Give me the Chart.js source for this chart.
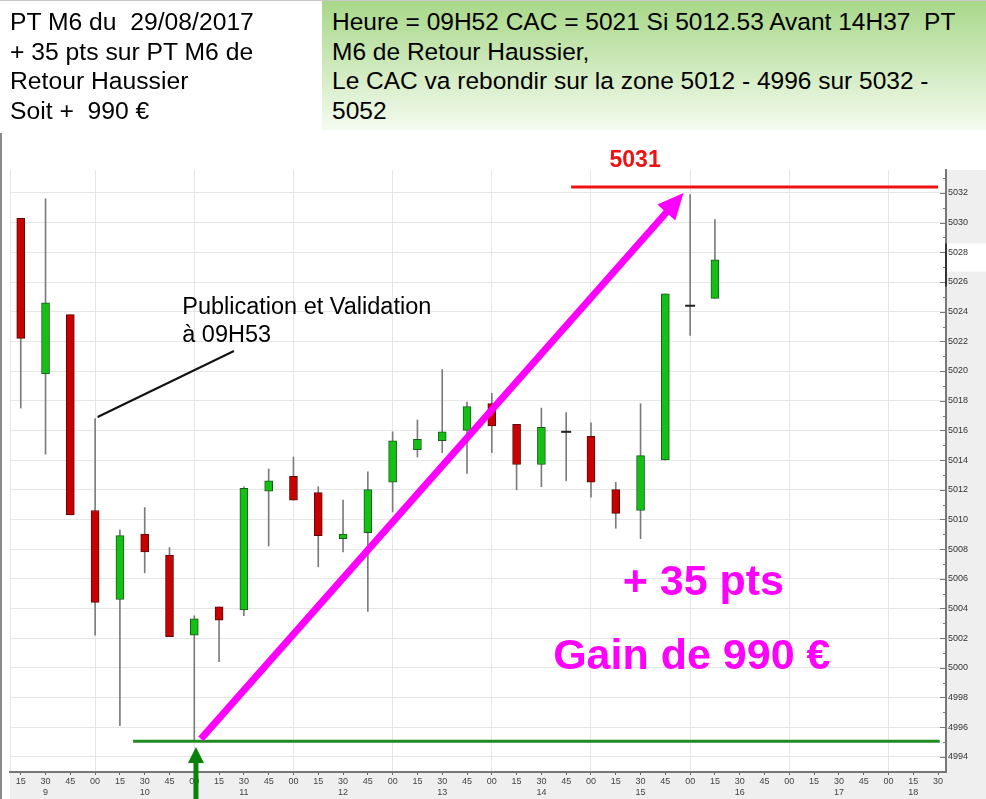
<!DOCTYPE html>
<html><head><meta charset="utf-8">
<script src="https://cdn.jsdelivr.net/npm/chart.js@4.4.0/dist/chart.umd.min.js"></script>
<style>
html,body{margin:0;padding:0;background:#fff;}
#wrap{position:relative;width:986px;height:799px;overflow:hidden;font-family:"Liberation Sans",Arial,sans-serif;}
#c{position:absolute;left:0;top:0;}
#left{position:absolute;left:10px;top:7px;font-size:24.7px;line-height:29.7px;color:#000;white-space:nowrap;}
#green{position:absolute;left:322px;top:0;width:664px;height:130px;background:linear-gradient(#a7d788,#f4fbef);}
#greenText{position:absolute;left:10px;top:7px;font-size:24.5px;line-height:29.7px;color:#000;white-space:nowrap;}
#topline{position:absolute;left:0;top:0;width:986px;height:1px;background:#c8c8c8;}
#leftline{position:absolute;left:0;top:133px;width:2px;height:666px;background:#8a8a8a;}
</style></head>
<body><div id="wrap">
<canvas id="c" width="986" height="799"></canvas>
<div id="left">PT M6 du&nbsp; 29/08/2017<br>+ 35 pts sur PT M6 de<br>Retour Haussier<br>Soit +&nbsp; 990 €</div>
<div id="green"><div id="greenText">Heure = 09H52 CAC = 5021 Si 5012.53 Avant 14H37&nbsp; PT<br>M6 de Retour Haussier,<br>Le CAC va rebondir sur la zone 5012 - 4996 sur 5032 -<br>5052</div></div>
<div id="topline"></div>
<div id="leftline"></div>
</div>
<script>
// ---- data (15-minute candles, CAC 40, 29/08/2017) ----
const times = ['09:15','09:30','09:45','10:00','10:15','10:30','10:45','11:00','11:15','11:30','11:45','12:00','12:15','12:30','12:45','13:00','13:15','13:30','13:45','14:00','14:15','14:30','14:45','15:00','15:15','15:30','15:45','16:00','16:15'];
const open  = [5030.3,5019.8,5023.8,5010.6,5004.6,5009.0,5007.6,5002.2,5004.1,5003.9,5011.9,5012.9,5011.8,5008.7,5009.1,5012.5,5014.7,5015.3,5016.0,5017.8,5016.4,5013.7,5015.9,5015.6,5012.0,5010.6,5014.0,5024.4,5024.9];
const high  = [5030.3,5031.6,5023.8,5016.8,5009.3,5010.8,5008.1,5003.5,5004.1,5012.2,5013.4,5014.2,5012.2,5011.3,5013.2,5015.9,5016.7,5020.1,5017.9,5018.5,5016.4,5017.5,5017.2,5016.5,5012.5,5017.8,5025.2,5031.9,5030.2];
const low   = [5017.5,5014.4,5010.3,5002.2,4996.1,5006.4,5002.1,4995.1,5000.4,5003.5,5008.2,5011.3,5006.8,5007.8,5003.8,5010.5,5014.2,5014.5,5013.1,5014.5,5012.0,5012.2,5012.6,5011.5,5009.4,5008.7,5014.0,5022.4,5024.9];
const close = [5022.2,5024.6,5010.3,5004.4,5008.9,5007.8,5002.1,5003.3,5003.2,5012.1,5012.6,5011.3,5008.9,5009.0,5012.0,5015.3,5015.4,5015.9,5017.6,5016.3,5013.7,5016.2,5015.9,5012.5,5010.4,5014.3,5025.2,5024.4,5027.5];

// axis ticks
const xTicks = ['09:15','09:30','09:45','10:00','10:15','10:30','10:45','11:00','11:15','11:30','11:45','12:00','12:15','12:30','12:45','13:00','13:15','13:30','13:45','14:00','14:15','14:30','14:45','15:00','15:15','15:30','15:45','16:00','16:15','16:30','16:45','17:00','17:15','17:30','17:45','18:00','18:15','18:30'];
const hourLabels  = ['9','10','11','12','13','14','15','16','17','18'];
const hourLabelAt = ['09:30','10:30','11:30','12:30','13:30','14:30','15:30','16:30','17:30','18:15'];
const yTicks = [4994,4996,4998,5000,5002,5004,5006,5008,5010,5012,5014,5016,5018,5020,5022,5024,5026,5028,5030,5032];
const yMin = 4992.97, yMax = 5033.55;
const xMinTime = '09:08.5', xMaxTime = '18:34.8';

// annotation levels / points (time, value)
const resistance = ['14:48','18:30',5032.4];
const resistanceLabel = ['15:26.7',5034.2,'5031'];
const support = ['10:23','18:31',4995.05];
const gainArrow = [['11:04',4995.2],['15:56',5032.0]];
const entryArrow = [['11:01',4991.1],['11:01',4994.65]];
const callout = [['10:01.5',5016.9],['11:24',5021.35]];
const calloutText = [['10:52.7',5023.84,'Publication et Validation'],['10:52.7',5021.95,'à 09H53']];
const gainTexts = [['16:08',5005.7,'+ 35 pts'],['16:01',5000.7,'Gain de 990 €']];
const priceMarker = [5028.6,5026.7,5025.7];

function toMin(t){ const p=t.split(':'); return +p[0]*60 + parseFloat(p[1]); }
function fmt(m){ const h=Math.floor(m/60+1e-9), mm=Math.round(m-h*60); return String(h).padStart(2,'0')+':'+String(mm).padStart(2,'0'); }

const tm = times.map(toMin);
const upColor='#14c014', downColor='#c80000';
const bodyColors = open.map((o,i)=> close[i]>=o ? upColor : downColor);
const bodyBorders = open.map((o,i)=> close[i]>=o ? '#1a5a1a' : '#5a0a0a');
const dojiData = tm.map((x,i)=> open[i]===close[i] ? {x, y:open[i]} : null).filter(Boolean);

const FONT = '"Liberation Sans", Arial, sans-serif';

function arrow(ctx, x0,y0,x1,y1, w, hl, hw, color){
  const dx=x1-x0, dy=y1-y0, L=Math.hypot(dx,dy), ux=dx/L, uy=dy/L;
  const bx=x1-ux*hl, by=y1-uy*hl;
  ctx.strokeStyle=color; ctx.fillStyle=color; ctx.lineWidth=w; ctx.lineCap='butt';
  ctx.beginPath(); ctx.moveTo(x0,y0); ctx.lineTo(bx+ux*1,by+uy*1); ctx.stroke();
  ctx.beginPath(); ctx.moveTo(x1,y1);
  ctx.lineTo(bx - uy*hw, by + ux*hw); ctx.lineTo(bx + uy*hw, by - ux*hw); ctx.closePath(); ctx.fill();
}

const decor = {
  id:'decor',
  beforeDraw(chart){
    const {ctx, chartArea:a, width, height} = chart;
    ctx.save();
    ctx.fillStyle='#ffffff'; ctx.fillRect(0,0,width,height);
    ctx.fillStyle='#efefef';
    ctx.fillRect(a.right, a.top, width-a.right, height-a.top);
    ctx.fillRect(a.left, a.bottom, a.right-a.left, height-a.bottom);
    const ys = chart.scales.y;
    ctx.fillStyle='#ffffff';
    const t=ys.getPixelForValue(priceMarker[0]), b=ys.getPixelForValue(priceMarker[1]);
    ctx.fillRect(a.right, t, width-a.right, b-t);
    ctx.strokeStyle='#e6e6e6'; ctx.lineWidth=1;
    ctx.beginPath(); ctx.moveTo(a.left+0.5,a.top); ctx.lineTo(a.left+0.5,a.bottom); ctx.stroke();
    ctx.restore();
  },
  afterDraw(chart){
    const {ctx, chartArea:a} = chart;
    const xs=chart.scales.x, ys=chart.scales.y;
    const X=t=>xs.getPixelForValue(toMin(t)), Y=v=>ys.getPixelForValue(v);
    ctx.save();
    // inner tick marks on price axis
    ctx.strokeStyle='#777'; ctx.lineWidth=1;
    for(let v=Math.ceil(yMin); v<=Math.floor(yMax); v++){
      const y=Math.round(Y(v))+0.5; const len = v%2===0 ? 6 : 3;
      ctx.beginPath(); ctx.moveTo(a.right-len,y); ctx.lineTo(a.right,y); ctx.stroke();
    }
    ctx.strokeStyle='#333'; ctx.lineWidth=2;
    ctx.beginPath(); ctx.moveTo(a.right,Y(priceMarker[0])); ctx.lineTo(a.right,Y(priceMarker[2])); ctx.stroke();
    // resistance
    ctx.strokeStyle='#ee1111'; ctx.lineWidth=3;
    ctx.beginPath(); ctx.moveTo(X(resistance[0]),Y(resistance[2])); ctx.lineTo(X(resistance[1]),Y(resistance[2])); ctx.stroke();
    ctx.fillStyle='#ee1111'; ctx.font='bold 23px '+FONT; ctx.textAlign='center'; ctx.textBaseline='middle';
    ctx.fillText(resistanceLabel[2], X(resistanceLabel[0]), Y(resistanceLabel[1]));
    // support
    ctx.strokeStyle='#1e8c1e'; ctx.lineWidth=3;
    ctx.beginPath(); ctx.moveTo(X(support[0]),Y(support[2])); ctx.lineTo(X(support[1]),Y(support[2])); ctx.stroke();
    // callout
    ctx.strokeStyle='#111'; ctx.lineWidth=2;
    ctx.beginPath(); ctx.moveTo(X(callout[0][0]),Y(callout[0][1])); ctx.lineTo(X(callout[1][0]),Y(callout[1][1])); ctx.stroke();
    ctx.fillStyle='#000'; ctx.font='23.5px '+FONT; ctx.textAlign='left'; ctx.textBaseline='alphabetic';
    calloutText.forEach(c=>ctx.fillText(c[2], X(c[0]), Y(c[1])));
    // gain arrow
    arrow(ctx, X(gainArrow[0][0]),Y(gainArrow[0][1]), X(gainArrow[1][0]),Y(gainArrow[1][1]), 7, 26, 12, '#ff00ff');
    // entry arrow
    arrow(ctx, X(entryArrow[0][0]),Y(entryArrow[0][1]), X(entryArrow[1][0]),Y(entryArrow[1][1]), 5, 16, 8, '#0a820a');
    // gain texts
    ctx.fillStyle='#ff00ff'; ctx.font='bold 43px '+FONT; ctx.textAlign='center'; ctx.textBaseline='middle';
    gainTexts.forEach(g=>ctx.fillText(g[2], X(g[0]), Y(g[1])));
    ctx.restore();
  }
};

new Chart(document.getElementById('c'), {
  type:'bar',
  data:{ datasets:[
    { type:'bar', label:'mèches', data: tm.map((x,i)=>({x, y:[low[i],high[i]]})), backgroundColor:'#7c7c7c', barThickness:1, grouped:false, order:3 },
    { type:'bar', label:'corps', data: tm.map((x,i)=>({x, y:[open[i],close[i]]})), backgroundColor:bodyColors, borderColor:bodyBorders, borderWidth:1, borderSkipped:false, barThickness:8, grouped:false, order:2 },
    { type:'scatter', label:'doji', data: dojiData, pointStyle:'line', radius:5, borderColor:'#222', borderWidth:2, order:1 }
  ]},
  options:{
    responsive:false, animation:false, devicePixelRatio:1,
    layout:{ padding:{ top:170, left:10, right:0, bottom:0 } },
    plugins:{ legend:{display:false}, tooltip:{enabled:false} },
    scales:{
      x:{
        type:'linear', offset:false, bounds:'data', min:toMin(xMinTime), max:toMin(xMaxTime),
        afterBuildTicks: s => { s.ticks = xTicks.map(t=>({value:toMin(t)})); },
        afterFit: s => { s.height = 27; },
        ticks:{ autoSkip:false, maxRotation:0, padding:1, color:'#444', font:{size:9, family:FONT},
          callback: v => { const t=fmt(v); const k=hourLabelAt.indexOf(t); return [t.slice(3), k>=0 ? hourLabels[k] : '']; } },
        grid:{ offset:false, color: c => (c.tick && Math.round(c.tick.value)%60===0) ? '#e6e6e6' : 'rgba(0,0,0,0)', tickColor:'#666', tickLength:3 },
        border:{ display:true, color:'#777', width:2 }
      },
      y:{
        position:'right', min:yMin, max:yMax,
        afterBuildTicks: s => { s.ticks = yTicks.map(v=>({value:v})); },
        afterFit: s => { s.width = 40; },
        ticks:{ padding:2, color:'#333', font:{size:9, family:FONT}, callback: v => String(v) },
        grid:{ color:'#e6e6e6', drawTicks:false },
        border:{ display:true, color:'#777', width:2 }
      }
    }
  },
  plugins:[decor]
});
</script>
</body></html>
